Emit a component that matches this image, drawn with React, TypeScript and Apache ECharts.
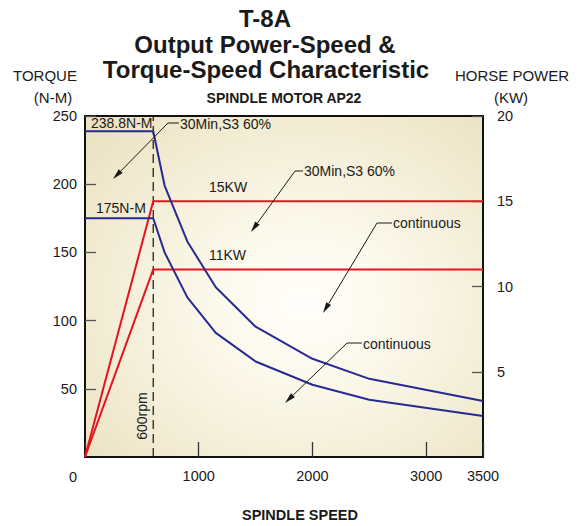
import React, { useEffect, useRef } from "react";
import * as echarts from "echarts";

// ---- data ----
const speedPts = [600, 700, 900, 1150, 1500, 2000, 2500, 3500];
const torque30Min = [238.8, 199, 158, 124.5, 95.5, 72, 57.3, 41];
const torqueCont = [175, 150, 117, 91, 70, 53, 42, 30];
const power30MinSpeed = [0, 600, 3500];
const power30Min = [0, 15, 15];
const powerContSpeed = [0, 600, 3500];
const powerCont = [0, 11, 11];
const baseSpeed = 600;
const xTicks = [0, 1000, 2000, 3000, 3500];

const FONT = "'Liberation Sans', Arial, Helvetica, sans-serif";
const BLUE = "#262a92";
const RED = "#e5141f";
const INK = "#1a1a1a";

function txt(x: number, y: number, text: string, size: number, opts: any = {}) {
  return {
    type: "text",
    x,
    y,
    rotation: opts.rotation || 0,
    z: 50,
    style: {
      text,
      fill: INK,
      font: `${opts.bold ? "bold " : ""}${size}px ${FONT}`,
      align: opts.align || "left",
      verticalAlign: "middle",
    },
  };
}

function leader(sx: number, sy: number, hx: number, tx: number, ty: number) {
  const dx = tx - sx;
  const dy = ty - sy;
  const len = Math.sqrt(dx * dx + dy * dy);
  const ux = dx / len;
  const uy = dy / len;
  const L = 11;
  const W = 2.8;
  const bx = tx - ux * L;
  const by = ty - uy * L;
  return [
    { type: "line", z: 50, shape: { x1: sx, y1: sy, x2: hx, y2: sy }, style: { stroke: INK, lineWidth: 1 } },
    { type: "line", z: 50, shape: { x1: sx, y1: sy, x2: bx, y2: by }, style: { stroke: INK, lineWidth: 1 } },
    {
      type: "polygon",
      z: 50,
      shape: {
        points: [
          [tx, ty],
          [bx - uy * W, by + ux * W],
          [bx + uy * W, by - ux * W],
        ],
      },
      style: { fill: INK },
    },
  ];
}

export default function App() {
  const ref = useRef<HTMLDivElement>(null);
  useEffect(() => {
    if (!ref.current) return;
    const chart = echarts.init(ref.current, null, { renderer: "svg" });
    const blueA = speedPts.map((s, i) => [s, torque30Min[i]]);
    const blueB = speedPts.map((s, i) => [s, torqueCont[i]]);
    const option: any = {
      animation: false,
      grid: {
        left: 85,
        right: 95,
        top: 116,
        bottom: 69,
        show: true,
        borderColor: "#111",
        borderWidth: 2,
        backgroundColor: {
          type: "radial",
          x: 0.55,
          y: 0.55,
          r: 0.72,
          colorStops: [
            { offset: 0, color: "#fffefa" },
            { offset: 0.35, color: "#fbf8ea" },
            { offset: 1, color: "#ebe3c2" },
          ],
        },
      },
      xAxis: {
        type: "value",
        min: 0,
        max: 3500,
        interval: 1000,
        axisLine: { show: true, lineStyle: { color: "#111", width: 2 } },
        axisTick: { show: true, inside: true, length: 15, lineStyle: { color: "#333", width: 1.3 } },
        splitLine: { show: false },
        axisLabel: {
          show: true,
          margin: 11,
          fontSize: 14.5,
          fontFamily: FONT,
          color: INK,
          formatter: (v: number) => (v === 0 || xTicks.indexOf(v) < 0 ? "" : String(v)),
          showMaxLabel: true,
        },
      },
      yAxis: [
        {
          type: "value",
          min: 0,
          max: 250,
          interval: 50,
          position: "left",
          axisLine: { show: true, lineStyle: { color: "#111", width: 2 } },
          axisTick: { show: true, inside: true, length: 11, lineStyle: { color: "#555", width: 1.3 } },
          splitLine: { show: false },
          axisLabel: {
            margin: 8,
            fontSize: 14.5,
            fontFamily: FONT,
            color: INK,
            showMinLabel: false,
          },
        },
        {
          type: "value",
          min: 0,
          max: 20,
          interval: 5,
          position: "right",
          axisLine: { show: true, lineStyle: { color: "#111", width: 2 } },
          axisTick: { show: true, inside: true, length: 11, lineStyle: { color: "#555", width: 1.3 } },
          splitLine: { show: false },
          axisLabel: {
            margin: 14,
            fontSize: 14.5,
            fontFamily: FONT,
            color: INK,
            showMinLabel: false,
          },
        },
      ],
      series: [
        {
          type: "line",
          data: [
            [baseSpeed, 0],
            [baseSpeed, 250],
          ],
          yAxisIndex: 0,
          symbol: "none",
          lineStyle: { color: "#111", width: 1.2, type: [9, 5] },
          z: 1,
        },
        {
          type: "line",
          data: [[0, torque30Min[0]], ...blueA],
          yAxisIndex: 0,
          symbol: "none",
          lineStyle: { color: BLUE, width: 2 },
          z: 3,
        },
        {
          type: "line",
          data: [[0, torqueCont[0]], ...blueB],
          yAxisIndex: 0,
          symbol: "none",
          lineStyle: { color: BLUE, width: 2 },
          z: 3,
        },
        {
          type: "line",
          data: power30MinSpeed.map((s, i) => [s, power30Min[i]]),
          yAxisIndex: 1,
          symbol: "none",
          lineStyle: { color: RED, width: 2 },
          z: 2,
        },
        {
          type: "line",
          data: powerContSpeed.map((s, i) => [s, powerCont[i]]),
          yAxisIndex: 1,
          symbol: "none",
          lineStyle: { color: RED, width: 2 },
          z: 2,
        },
      ],
      graphic: [
        txt(265, 18, "T-8A", 24, { bold: true, align: "center" }),
        txt(265, 44, "Output Power-Speed &", 24, { bold: true, align: "center" }),
        txt(266, 69, "Torque-Speed Characteristic", 24, { bold: true, align: "center" }),
        txt(45, 75, "TORQUE", 15, { align: "center" }),
        txt(53, 97, "(N-M)", 15, { align: "center" }),
        txt(512, 75, "HORSE POWER", 15, { align: "center" }),
        txt(511, 97, "(KW)", 15, { align: "center" }),
        txt(284, 98, "SPINDLE MOTOR AP22", 14, { bold: true, align: "center" }),
        txt(300, 515, "SPINDLE SPEED", 14.5, { bold: true, align: "center" }),
        txt(77, 477, "0", 14.5, { align: "right" }),
        txt(91, 123, "238.8N-M", 14),
        txt(96, 208, "175N-M", 14),
        txt(180, 124, "30Min,S3 60%", 14),
        txt(209, 187, "15KW", 14),
        txt(209, 255, "11KW", 14),
        txt(304, 171, "30Min,S3 60%", 14),
        txt(393, 223, "continuous", 14),
        txt(363, 344, "continuous", 14),
        txt(142, 416, "600rpm", 14, { align: "center", rotation: Math.PI / 2 }),
        ...leader(168, 123, 179, 113, 179),
        ...leader(295, 171, 303, 251, 232),
        ...leader(377, 223, 392, 323, 313),
        ...leader(347, 343, 362, 285, 403),
      ],
    };
    chart.setOption(option);
    return () => chart.dispose();
  }, []);
  return (
    <div
      ref={ref}
      style={{ position: "fixed", left: 0, top: 0, width: 578, height: 526, background: "#fff" }}
    />
  );
}
